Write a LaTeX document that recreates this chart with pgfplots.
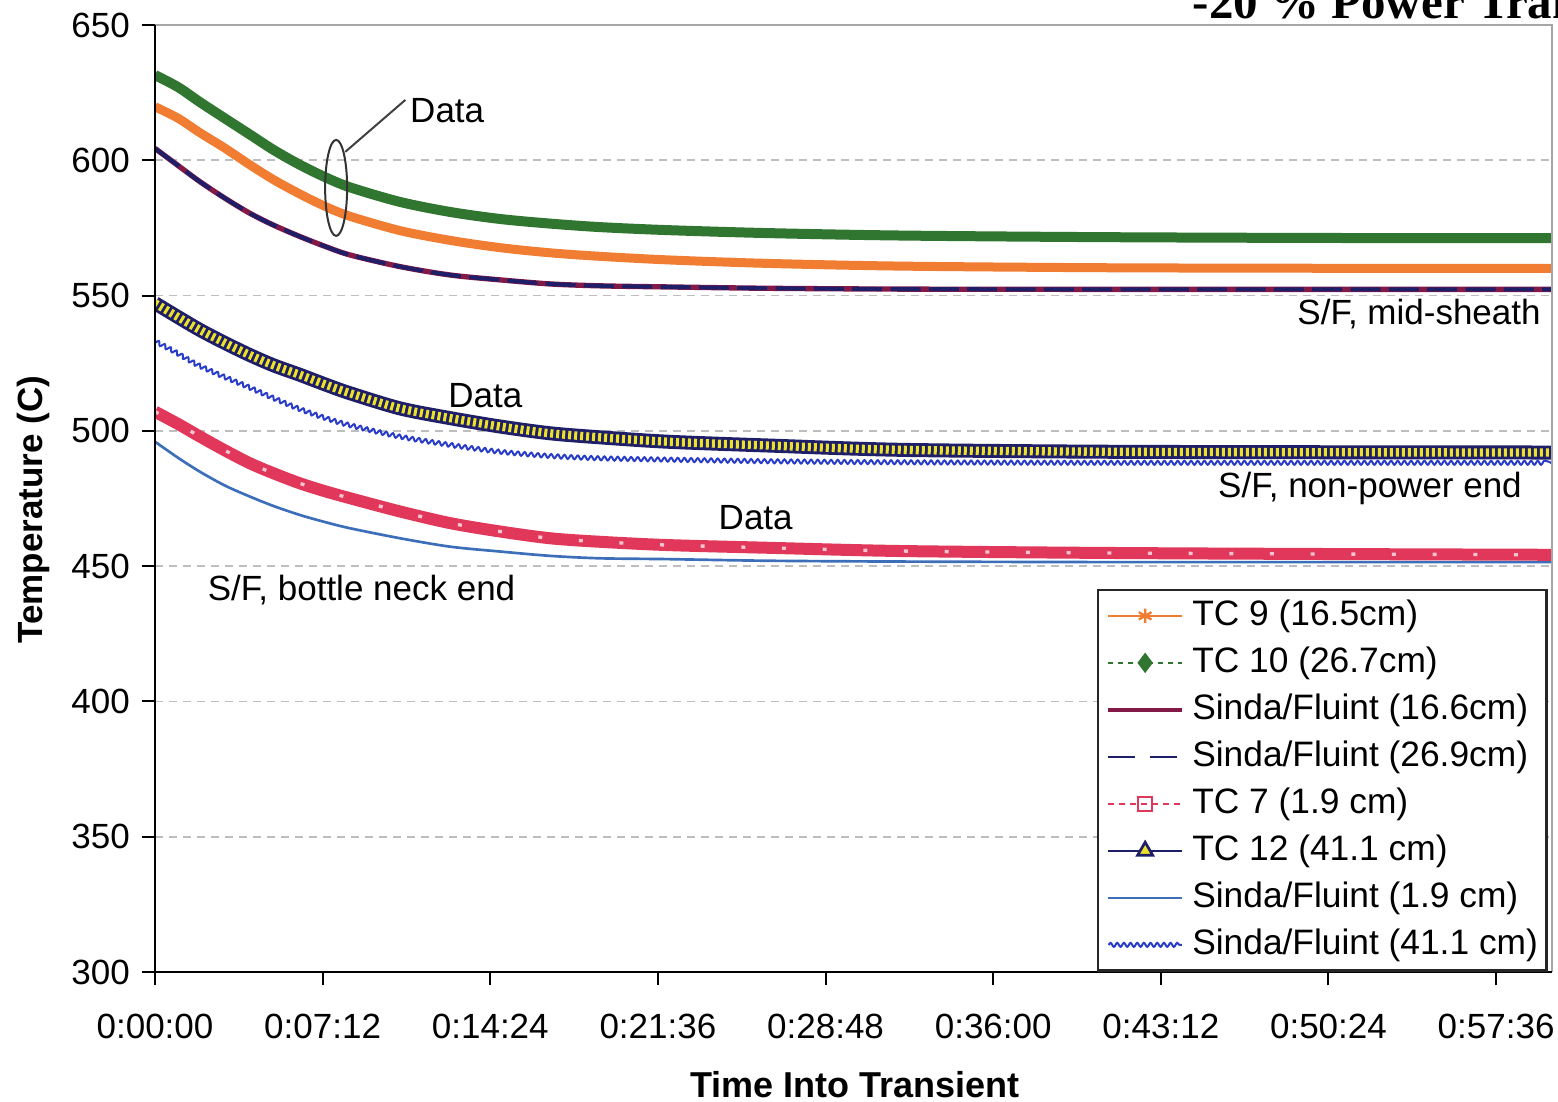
\documentclass[border=0pt]{standalone}
\usepackage{fontspec}
\setmainfont{Liberation Sans}
\newfontfamily\titlefont{Liberation Serif}
\usepackage{pgfplots}
\usepackage{pgfplotstable}
\pgfplotsset{compat=1.18}
\usetikzlibrary{decorations.pathmorphing}

\definecolor{cOrange}{RGB}{240,125,50}
\definecolor{cGreen}{RGB}{48,118,48}
\definecolor{cMaroon}{RGB}{130,25,70}
\definecolor{cNavy}{RGB}{30,30,105}
\definecolor{cRed}{RGB}{225,55,90}
\definecolor{cYellow}{RGB}{235,225,40}
\definecolor{cSteel}{RGB}{60,110,185}
\definecolor{cBlue}{RGB}{40,60,200}
\definecolor{cGrid}{RGB}{190,190,190}

\pgfplotstableread{
t     tcnine tcten sfmid tctwelve sffortyone tcseven sfone
0     619.8  631.5 604.4 547.2    533.6      507.1   496.0
1     615.5  627.0 598.0 542.0    529.0      502.5   490.0
1.93  610.2  621.5 592.1 537.3    524.4      497.9   484.9
3     604.5  615.5 586.0 532.5    520.2      492.8   479.8
4.08  598.3  609.5 580.4 528.0    516.3      488.0   475.7
5.1   592.8  603.8 576.0 524.2    512.4      484.3   472.2
6.23  587.5  598.3 571.8 520.7    508.3      480.6   468.9
7.3   583.0  593.8 568.2 517.2    505.0      477.7   466.3
8.38  579.3  590.0 565.0 513.9    502.2      475.1   464.0
10.53 574.0  584.6 560.7 508.3    497.9      470.2   460.3
12.68 570.4  580.9 557.6 504.7    494.8      465.9   457.2
14.83 567.7  578.3 555.8 501.6    492.2      462.8   455.4
16.98 565.8  576.6 554.3 499.1    490.6      460.3   453.8
19.13 564.5  575.3 553.6 497.6    489.7      459.0   452.9
22.0  563.2  574.2 553.2 496.0    489.2      457.8   452.6
26.3  561.9  573.1 552.7 494.6    488.6      456.8   452.0
32    560.9  572.2 552.4 493.0    488.2      455.6   451.7
40.6  560.3  571.6 552.3 492.3    488.0      454.9   451.5
50    560.1  571.3 552.3 492.1    488.0      454.5   451.5
60    560.1  571.2 552.3 492.0    488.0      454.2   451.5
}\datatab

\begin{document}
\begin{tikzpicture}
\begin{axis}[
  name=ax, at={(0,0)}, anchor=south west,
  scale only axis, width=419.1pt, height=284.1pt,
  xmin=0, xmax=60, ymin=300, ymax=650,
  clip mode=individual,
  axis line style={draw=none},
  xtick={0,7.2,14.4,21.6,28.8,36,43.2,50.4,57.6},
  xticklabels={0:00:00,0:07:12,0:14:24,0:21:36,0:28:48,0:36:00,0:43:12,0:50:24,0:57:36},
  ytick={300,350,400,450,500,550,600,650},
  xtick pos=bottom, ytick pos=left,
  tick align=outside, major tick length=4pt,
  tick style={black, line width=0.6pt},
  minor tick num=0,
  /pgf/number format/assume math mode=true,
  tick label style={font=\fontsize{10.5}{12}\selectfont, black},
  xticklabel style={yshift=-5pt},
  ymajorgrids,
  major grid style={cGrid, line width=0.5pt, dash pattern=on 2.4pt off 1.8pt},
  xlabel={Time Into Transient},
  ylabel={Temperature (C)},
  xlabel style={font=\bfseries\fontsize{10.8}{12}\selectfont, at={(axis description cs:0.501,-0.1193)}, anchor=center},
  ylabel style={font=\bfseries\fontsize{10.5}{12}\selectfont, at={(axis description cs:-0.0873,0.488)}, anchor=center},
  legend cell align=left,
  legend image code/.code={\draw[mark repeat=2,mark phase=2,#1] plot coordinates {(0pt,0pt) (11pt,0pt) (22pt,0pt)};},
  legend style={at={(rel axis cs:0.9971,0)}, anchor=south east, draw=black!85, line width=0.8pt,
    font=\fontsize{10.6}{12}\selectfont, inner xsep=2.6pt, inner ysep=2.5pt,
    nodes={inner sep=0pt, text height=8pt, text depth=2.5pt}, row sep=3.6pt, column sep=2.6pt},
]
% S/F 1.9 cm
\addplot[forget plot, cSteel, line width=0.8pt, smooth] table[x=t,y=sfone]{\datatab};
% TC7 band
\addplot[forget plot, cRed, line width=3.6pt, smooth] table[x=t,y=tcseven]{\datatab};
\addplot[forget plot, white!70!cRed, line width=1pt, smooth, dash pattern=on 1.2pt off 11pt] table[x=t,y=tcseven]{\datatab};
% S/F 41.1 cm
\addplot[forget plot, cBlue, line width=0.6pt, smooth, decorate, decoration={snake, amplitude=0.6pt, segment length=2pt}] table[x=t,y=sffortyone]{\datatab};
% TC12 band
\addplot[forget plot, cNavy, line width=4.2pt, smooth] table[x=t,y=tctwelve]{\datatab};
\addplot[forget plot, cYellow, line width=2.5pt, smooth, dash pattern=on 0.9pt off 0.9pt] table[x=t,y=tctwelve]{\datatab};
% S/F mid-sheath
\addplot[forget plot, cMaroon, line width=1.6pt, smooth] table[x=t,y=sfmid]{\datatab};
\addplot[forget plot, cNavy, line width=1.2pt, smooth, dash pattern=on 9pt off 2.5pt] table[x=t,y=sfmid]{\datatab};
% TC9 band
\addplot[forget plot, cOrange, line width=2.7pt, smooth] table[x=t,y=tcnine]{\datatab};
% TC10 band
\addplot[forget plot, cGreen, line width=3pt, smooth] table[x=t,y=tcten]{\datatab};

% legend
\addlegendimage{cOrange, line width=0.7pt, mark=asterisk, mark size=2.2pt}
\addlegendentry{TC 9 (16.5cm)}
\addlegendimage{cGreen, line width=0.7pt, dash pattern=on 1.5pt off 1.5pt, mark=diamond*, mark size=2.5pt, mark options={solid}}
\addlegendentry{TC 10 (26.7cm)}
\addlegendimage{cMaroon, line width=1.1pt}
\addlegendentry{Sinda/Fluint (16.6cm)}
\addlegendimage{cNavy, line width=0.7pt, dash pattern=on 8pt off 4.5pt}
\addlegendentry{Sinda/Fluint (26.9cm)}
\addlegendimage{cRed, line width=0.6pt, dash pattern=on 1.8pt off 1.5pt, mark=square, mark size=2pt, mark options={solid}}
\addlegendentry{TC 7 (1.9 cm)}
\addlegendimage{cNavy, line width=0.8pt, mark=triangle*, mark size=2.6pt, mark options={fill=cYellow, draw=cNavy}}
\addlegendentry{TC 12 (41.1 cm)}
\addlegendimage{cSteel, line width=0.7pt}
\addlegendentry{Sinda/Fluint (1.9 cm)}
\addlegendimage{cBlue, line width=0.6pt, decorate, decoration={snake, amplitude=0.6pt, segment length=2pt}}
\addlegendentry{Sinda/Fluint (41.1 cm)}

% frame
\draw[gray!70, line width=0.5pt] (rel axis cs:0,1) -- (rel axis cs:1,1) -- (rel axis cs:1,0);
\draw[black, line width=0.8pt] (rel axis cs:0,1) -- (rel axis cs:0,0) -- (rel axis cs:1,0);

% annotations
\node[font=\fontsize{10.5}{12}\selectfont] at (axis cs:12.55,618.2) {Data};
\draw[black!75, line width=0.6pt] (axis cs:10.75,622.3) -- (axis cs:8.17,603.1);
\draw[black!80, line width=0.6pt] (axis cs:7.78,589.8) ellipse [x radius=3.3pt, y radius=14.4pt];
\node[font=\fontsize{10.5}{12}\selectfont] at (axis cs:14.19,512.9) {Data};
\node[font=\fontsize{10.5}{12}\selectfont] at (axis cs:25.8,467.8) {Data};
\node[font=\fontsize{10.5}{12}\selectfont, anchor=east, inner sep=0pt] at (axis cs:59.54,543.2) {S/F, mid-sheath};
\node[font=\fontsize{10.5}{12}\selectfont, anchor=east, inner sep=0pt] at (axis cs:58.73,478.9) {S/F, non-power end};
\node[font=\fontsize{10.5}{12}\selectfont, anchor=west, inner sep=0pt] at (axis cs:2.24,441.2) {S/F, bottle neck end};
\end{axis}
\node[anchor=base west, inner sep=0pt, font=\titlefont\bfseries\fontsize{14.7}{16}\selectfont] at ([shift={(311.1pt,286.0pt)}]ax.south west) {-20 \% Power Transient};
\pgfresetboundingbox
\useasboundingbox ([shift={(-46.5pt,-38.7pt)}]ax.south west) rectangle ([shift={(420.9pt,291.6pt)}]ax.south west);
\end{tikzpicture}
\end{document}
